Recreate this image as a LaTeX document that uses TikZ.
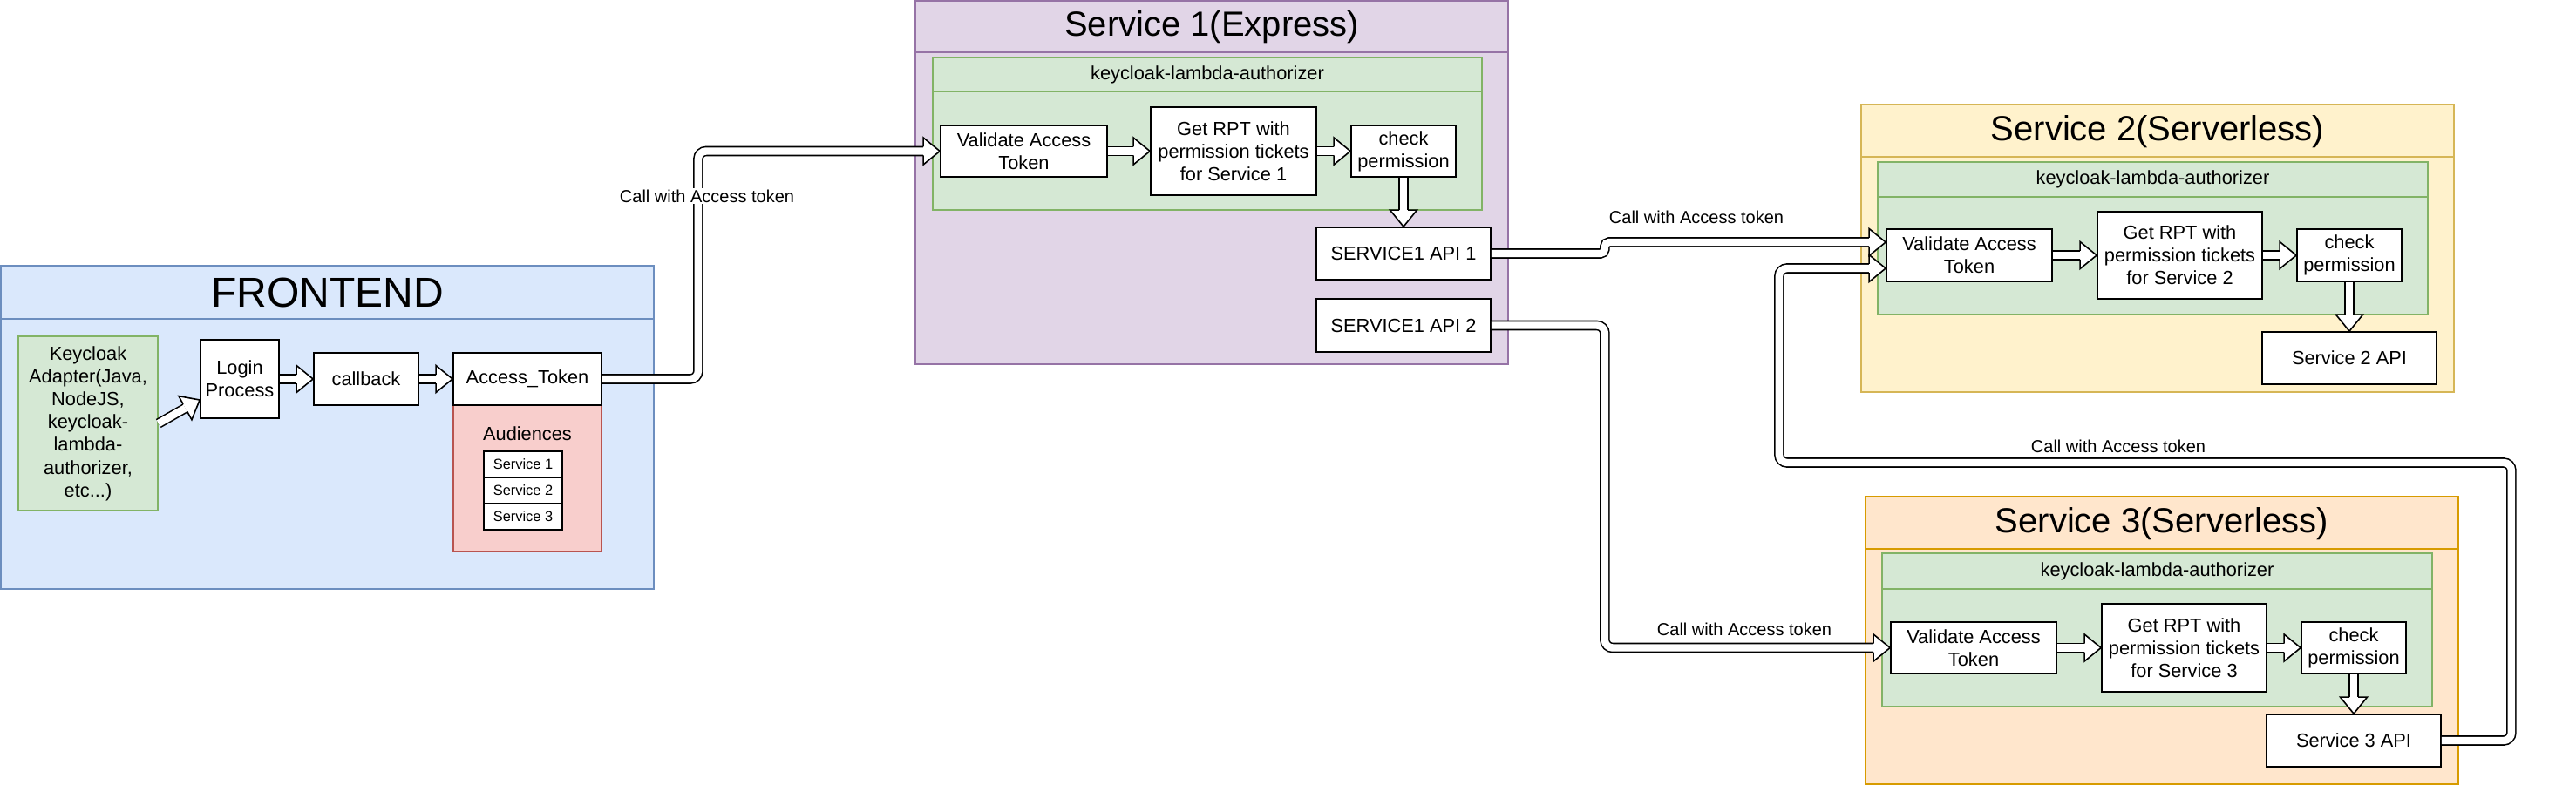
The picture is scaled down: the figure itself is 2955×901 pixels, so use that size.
\documentclass[tikz,border=0pt]{standalone}
\usepackage{fontspec}
\setmainfont{Liberation Sans}
\definecolor{blueF}{HTML}{DAE8FC}\definecolor{blueS}{HTML}{6C8EBF}
\definecolor{purF}{HTML}{E1D5E7}\definecolor{purS}{HTML}{9673A6}
\definecolor{grnF}{HTML}{D5E8D4}\definecolor{grnS}{HTML}{82B366}
\definecolor{yelF}{HTML}{FFF2CC}\definecolor{yelS}{HTML}{D6B656}
\definecolor{orF}{HTML}{FFE6CC}\definecolor{orS}{HTML}{D79B00}
\definecolor{redF}{HTML}{F8CECC}\definecolor{redS}{HTML}{B85450}
\newcommand{\mkbox}[7][]{\node[#1, minimum width={(#5)-(#3)}, minimum height={(#6)-(#4)}] (#2) at ({((#3)+(#5))/2},{((#4)+(#6))/2}) {#7};}
\tikzset{
  txt/.style={font=\fontsize{21.8pt}{26.2pt}\selectfont},
  box/.style={draw=black, fill=white, line width=1.8pt, align=center, inner sep=0pt, txt},
  lane/.style={line width=1.6pt, inner sep=0pt},
  ttl/.style={font=\fontsize{40pt}{48pt}\selectfont, inner sep=0pt},
  lbl/.style={font=\fontsize{20pt}{24pt}\selectfont, inner sep=2pt},
  small/.style={font=\fontsize{16.4pt}{19.7pt}\selectfont},
  flex/.style={draw=black, double=white, double distance=8.4pt, line width=1.6pt, rounded corners=9pt},
  fhead/.pic={\filldraw[fill=white, draw=black, line width=1.6pt, line join=miter] (-19,-5) -- (-19,-15.5) -- (0,0) -- (-19,15.5) -- (-19,5);}
}
\begin{document}
\begin{tikzpicture}[x=1pt,y=-1pt]
\useasboundingbox (0,0) rectangle (2955,901);

% ---------- FRONTEND ----------
\mkbox[lane, draw=blueS, fill=blueF]{fe}{1}{305}{750}{676}{}
\draw[blueS, line width=1.6pt] (1,366) -- (750,366);
\node[font=\fontsize{48pt}{58pt}\selectfont, inner sep=0pt] (tfe) at (375.5,335.5) {FRONTEND};
\mkbox[box, draw=grnS, fill=grnF, line width=1.6pt]{kc}{21}{386}{181}{586}{Keycloak\\Adapter(Java,\\NodeJS,\\keycloak-\\lambda-\\authorizer,\\etc...)}
\mkbox[box]{lp}{230}{390}{320}{480}{Login\\Process}
\mkbox[box]{cb}{360}{405}{480}{465}{callback}
\mkbox[box, draw=redS, fill=redF, line width=1.6pt]{aud}{520}{465}{690}{633}{}
\mkbox[box]{at}{520}{405}{690}{465}{Access\_Token}
\node[txt] (audt) at (605,498) {Audiences};
\mkbox[box, small, line width=1.6pt]{la}{555}{518}{645}{548}{Service 1}
\mkbox[box, small, line width=1.6pt]{lb}{555}{548}{645}{578}{Service 2}
\mkbox[box, small, line width=1.6pt]{lc}{555}{578}{645}{608}{Service 3}

% ---------- SERVICE 1 ----------
\mkbox[lane, draw=purS, fill=purF]{s1}{1050}{1}{1730}{418}{}
\draw[purS, line width=1.6pt] (1050,60) -- (1730,60);
\node[ttl] (t1) at (1390,31) {Service 1(Express)};
\mkbox[lane, draw=grnS, fill=grnF]{g1}{1070}{66}{1700}{241}{}
\draw[grnS, line width=1.6pt] (1070,105) -- (1700,105);
\node[txt] (gt1) at (1385,85.5) {keycloak-lambda-authorizer};
\mkbox[box]{v1}{1079}{144}{1270}{203}{Validate Access\\Token}
\mkbox[box]{r1}{1320}{123}{1510}{224}{Get RPT with\\permission tickets\\for Service 1}
\mkbox[box]{c1}{1550}{144}{1670}{203}{check\\permission}
\mkbox[box]{a1}{1510}{261}{1710}{321}{SERVICE1 API 1}
\mkbox[box]{b1}{1510}{343}{1710}{404}{SERVICE1 API 2}

% ---------- SERVICE 2 ----------
\mkbox[lane, draw=yelS, fill=yelF]{s2}{2135}{120}{2815}{450}{}
\draw[yelS, line width=1.6pt] (2135,180) -- (2815,180);
\node[ttl] (t2) at (2475,151) {Service 2(Serverless)};
\mkbox[lane, draw=grnS, fill=grnF]{g2}{2154}{186}{2785}{361}{}
\draw[grnS, line width=1.6pt] (2154,226) -- (2785,226);
\node[txt] (gt2) at (2469.5,206) {keycloak-lambda-authorizer};
\mkbox[box]{v2}{2164}{263}{2354}{323}{Validate Access\\Token}
\mkbox[box]{r2}{2406}{243}{2595}{343}{Get RPT with\\permission tickets\\for Service 2}
\mkbox[box]{c2}{2635}{263}{2755}{323}{check\\permission}
\mkbox[box]{p2}{2595}{381}{2795}{441}{Service 2 API}

% ---------- SERVICE 3 ----------
\mkbox[lane, draw=orS, fill=orF]{s3}{2140}{570}{2820}{900}{}
\draw[orS, line width=1.6pt] (2140,630) -- (2820,630);
\node[ttl] (t3) at (2480,601) {Service 3(Serverless)};
\mkbox[lane, draw=grnS, fill=grnF]{g3}{2159}{635}{2790}{811}{}
\draw[grnS, line width=1.6pt] (2159,676) -- (2790,676);
\node[txt] (gt3) at (2474.5,655.5) {keycloak-lambda-authorizer};
\mkbox[box]{v3}{2169}{714}{2359}{773}{Validate Access\\Token}
\mkbox[box]{r3}{2411}{693}{2600}{794}{Get RPT with\\permission tickets\\for Service 3}
\mkbox[box]{c3}{2640}{714}{2760}{773}{check\\permission}
\mkbox[box]{p3}{2600}{820}{2800}{880}{Service 3 API}

% ---------- arrows inside frontend ----------
\draw[flex, shorten >=19pt] (kc.east) -- ([yshift=-24pt]lp.west);
\pic[rotate=28.9] at ([yshift=-24pt]lp.west) {fhead};
\draw[flex, shorten >=19pt] (lp.east) -- (cb.west);
\pic at (cb.west) {fhead};
\draw[flex, shorten >=19pt] (cb.east) -- (at.west);
\pic at (at.west) {fhead};

% ---------- arrows inside services ----------
\foreach \v/\r/\c/\p in {v1/r1/c1/a1, v2/r2/c2/p2, v3/r3/c3/p3}{
  \draw[flex, shorten >=19pt] (\v.east) -- (\r.west);
  \pic at (\r.west) {fhead};
  \draw[flex, shorten >=19pt] (\r.east) -- (\c.west);
  \pic at (\c.west) {fhead};
  \draw[flex, shorten >=19pt] (\c.south) -- (\p.north);
  \pic[rotate=-90] at (\p.north) {fhead};
}

% ---------- calls ----------
\draw[flex, shorten >=19pt] (at.east) -- ++(110,0) |- (v1.west);
\pic at (v1.west) {fhead};
\draw[flex, rounded corners=5pt, shorten >=19pt] (a1.east) -- ++(130,0) |- ([yshift=15pt]v2.west);
\pic at ([yshift=15pt]v2.west) {fhead};
\draw[flex, shorten >=19pt] (b1.east) -- ++(130,0) |- (v3.west);
\pic at (v3.west) {fhead};
\draw[flex, shorten >=19pt] (p3.east) -- ++(80,0) -- ++(0,-319) -- ++(-840,0) |- ([yshift=-15pt]v2.west);
\pic at ([yshift=-15pt]v2.west) {fhead};

\node[lbl, fill=white] (L1) at (811,225) {Call with Access token};
\node[lbl] (L2) at (1946,249) {Call with Access token};
\node[lbl] (L3) at (2001,722) {Call with Access token};
\node[lbl] (L4) at (2430,512) {Call with Access token};
\end{tikzpicture}
\end{document}
